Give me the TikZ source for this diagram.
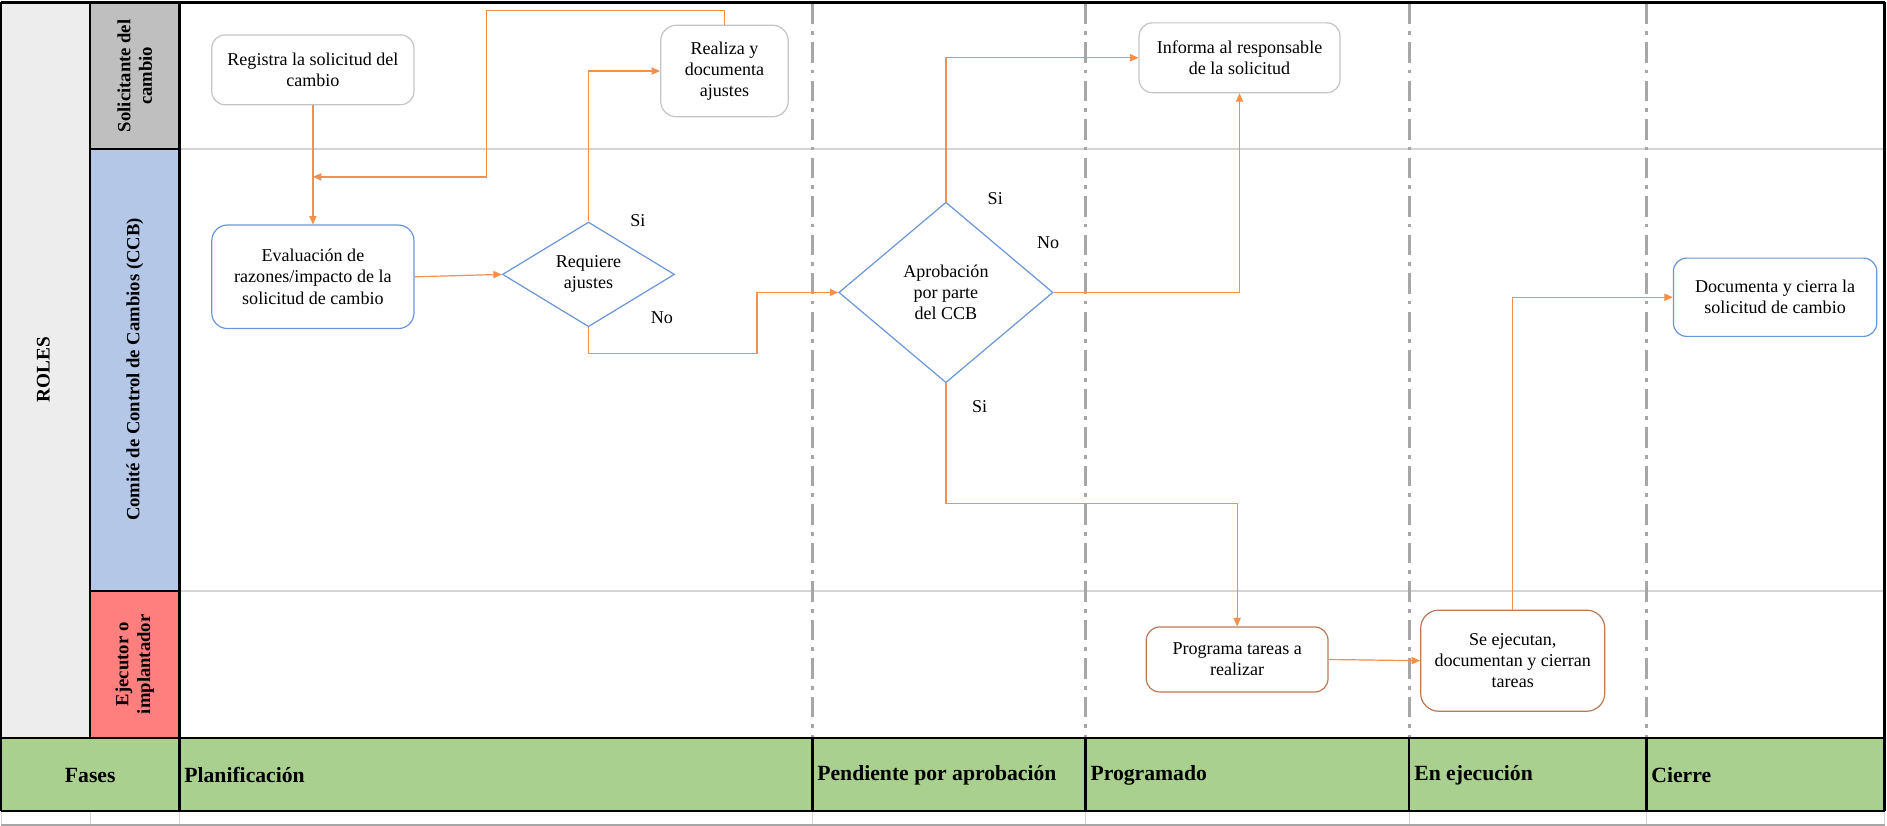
\documentclass[tikz,border=0pt]{standalone}
\usepackage{fontspec}
\setmainfont{Liberation Serif}
\usetikzlibrary{shapes.geometric,arrows.meta}

\definecolor{rolesbg}{HTML}{EDEDED}
\definecolor{lanegray}{HTML}{BFBFBF}
\definecolor{laneblue}{HTML}{B4C7E7}
\definecolor{lanered}{HTML}{FF7F7F}
\definecolor{fasegreen}{HTML}{A9D08E}
\definecolor{flowc}{HTML}{F4904A}
\definecolor{bordblue}{HTML}{6A96D8}
\definecolor{bordgray}{HTML}{C4C4C4}
\definecolor{bordbrown}{HTML}{B97A57}
\definecolor{phaseline}{HTML}{A6A6A6}
\definecolor{gridline}{HTML}{D4D4D4}

\tikzset{
  task/.style={draw, rounded corners=11pt, fill=white, align=center, inner sep=2pt,
    line width=1pt, font=\fontsize{15}{17.5}\selectfont},
  decision/.style={diamond, draw=bordblue, fill=white, align=center, inner sep=0pt,
    line width=1pt, font=\fontsize{15}{17.5}\selectfont},
  flow/.style={draw=flowc, line width=1pt, -{Triangle[length=7pt,width=6pt]}},
  lbl/.style={font=\fontsize{15}{17.5}\selectfont, inner sep=1pt},
  role/.style={rotate=90, align=center, font=\bfseries\fontsize{15.5}{18}\selectfont, inner sep=0pt},
  fase/.style={font=\bfseries\fontsize{18}{20}\selectfont, inner sep=0pt},
  heavy/.style={draw=black, line width=2pt},
  phase/.style={draw=phaseline, line width=2.5pt, dash pattern=on 17pt off 6pt on 3pt off 6pt},
}

\begin{document}
\begin{tikzpicture}[x=1pt, y=-1pt]
\useasboundingbox (0,0) rectangle (1568,686);

% lane backgrounds
\fill[white] (0,0) rectangle (1568,686);
\fill[rolesbg] (1,2) rectangle (75,613);
\fill[lanegray] (75,2) rectangle (149,124);
\fill[laneblue] (75,124) rectangle (149,491);
\fill[lanered] (75,491) rectangle (149,613);
\fill[fasegreen] (1,613) rectangle (1566,674);

% light lane separators in the working area
\draw[gridline, line width=1.5pt] (149,124) -- (1566,124);
\draw[gridline, line width=1.5pt] (149,491) -- (1566,491);

% phase boundaries
\foreach \px in {675,902,1171,1368} {
  \draw[phase] (\px,3) -- (\px,613);
}

% strip under the phase bar
\foreach \px in {1,75,149,675,902,1171,1368,1566} {
  \draw[gridline, line width=1pt] (\px,674) -- (\px,686);
}
\draw[phaseline, line width=1.2pt] (1,685.4) -- (1566,685.4);

% frame and table rules
\draw[heavy, line width=2.5pt] (0.5,2) -- (1566.5,2);
\draw[heavy] (1,2) -- (1,674);
\draw[heavy] (1566,2) -- (1566,674);
\draw[heavy] (75,2) -- (75,613);
\draw[heavy] (149,2) -- (149,674);
\draw[heavy] (75,124) -- (149,124);
\draw[heavy] (75,491) -- (149,491);
\draw[heavy] (1,613) -- (1566,613);
\draw[heavy] (1,674) -- (1566,674);
\foreach \px in {675,902,1171,1368} {
  \draw[heavy] (\px,613) -- (\px,674);
}

% role headers
\node[role, font=\bfseries\fontsize{16}{18}\selectfont] (roles) at (36,307) {ROLES};
\node[role] (rsol) at (112,63) {Solicitante del\\cambio};
\node[role] (rccb) at (112,307) {Comité de Control de Cambios (CCB)};
\node[role] (reje) at (112,552) {Ejecutor o\\implantador};

% phase names
\node[fase] (ffases) at (75,644) {Fases};
\node[fase, anchor=west] (fplan) at (153,644) {Planificación};
\node[fase, anchor=west] (fpend) at (679,644) {Pendiente por aprobación};
\node[fase, anchor=west] (fprog) at (906,644) {Programado};
\node[fase, anchor=west] (fejec) at (1175,644) {En ejecución};
\node[fase, anchor=west] (fcier) at (1372,644) {Cierre};

% activities
\node[task, draw=bordgray, minimum width=168, minimum height=58] (reg) at (260,58) {Registra la solicitud del\\cambio};
\node[task, draw=bordgray, minimum width=106, minimum height=76, rounded corners=13pt] (aju) at (602,59) {Realiza y\\documenta\\ajustes};
\node[task, draw=bordblue, minimum width=168, minimum height=86, rounded corners=13pt] (eva) at (260,230) {Evaluación de\\razones/impacto de la\\solicitud de cambio};
\node[decision, minimum width=143, minimum height=87, aspect=1.64] (req) at (489,228) {Requiere\\ajustes};
\node[decision, minimum width=178, minimum height=150, aspect=1.19] (apr) at (786,243) {Aprobación\\por parte\\del CCB};
\node[task, draw=bordgray, minimum width=167, minimum height=58] (inf) at (1030,48) {Informa al responsable\\de la solicitud};
\node[task, draw=bordblue, minimum width=169, minimum height=65] (doc) at (1475,247) {Documenta y cierra la\\solicitud de cambio};
\node[task, draw=bordbrown, minimum width=151, minimum height=54] (prg) at (1028,548) {Programa tareas a\\realizar};
\node[task, draw=bordbrown, minimum width=153, minimum height=84, rounded corners=15pt] (eje) at (1257,549) {Se ejecutan,\\documentan y cierran\\tareas};

% helper points for routed connectors
\coordinate (join) at (260,147);
\coordinate (top) at (404,9);
\coordinate (bend) at (629,294);

% connectors
\draw[flow] (reg.south) -- (eva.north);
\draw[flow] (aju.north) |- (top) -- (404,147) -- (join);
\draw[flow] (eva.east) -- (req.west);
\draw[flow] (req.north) |- (aju.west);
\draw[flow] (req.south) |- (bend) |- (apr.west);
\draw[flow] (apr.north) |- (inf.west);
\draw[flow] (apr.east) -| (inf.south);
\draw[flow] (apr.south) -- ++(0,100) -| (prg.north);
\draw[flow] (prg.east) -- (eje.west);
\draw[flow] (eje.north) |- (doc.west);

% branch labels
\node[lbl] (si1) at (530,183) {Si};
\node[lbl] (no1) at (550,264) {No};
\node[lbl] (si2) at (827,165) {Si};
\node[lbl] (no2) at (871,202) {No};
\node[lbl] (si3) at (814,338) {Si};
\end{tikzpicture}
\end{document}
